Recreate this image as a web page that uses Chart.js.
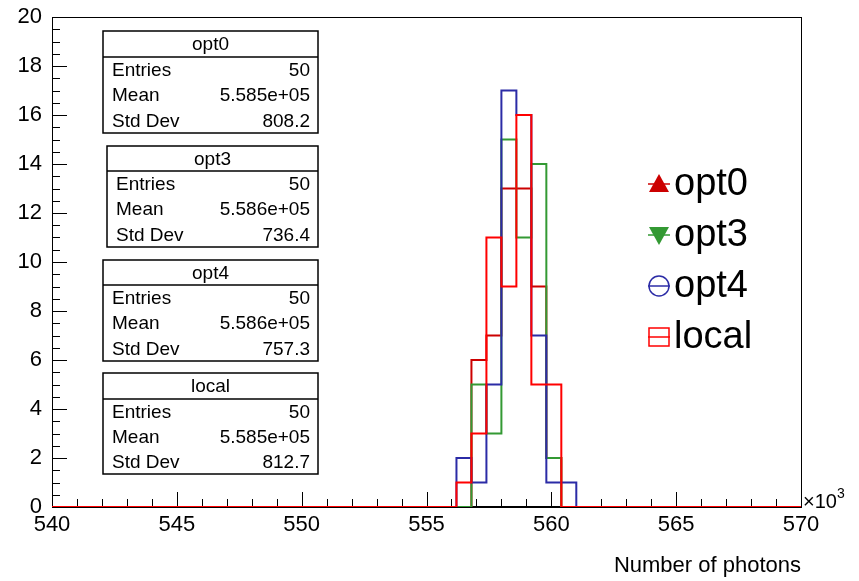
<!DOCTYPE html>
<html>
<head>
<meta charset="utf-8">
<script src="https://cdn.jsdelivr.net/npm/chart.js@4.4.1/dist/chart.umd.min.js"></script>
<style>
  html, body { margin: 0; padding: 0; background: #fff; }
  #graph { display: block; }
</style>
</head>
<body>
<canvas id="graph" width="859" height="581"></canvas>
<script>
// Histogramm-Daten (x in Einheiten von 10^3 Photonen, Binbreite 0.6)
const binEdges = [556.2, 556.8, 557.4, 558.0, 558.6, 559.2, 559.8, 560.4, 561.0];
const opt0Counts = [0, 6, 7, 13, 13, 9, 2, 0];
const opt3Counts = [0, 5, 3, 15, 11, 14, 2, 0];
const opt4Counts = [2, 1, 5, 17, 16, 7, 1, 1];
const localCounts = [1, 3, 11, 9, 16, 5, 5, 0];

const names = ["opt0", "opt3", "opt4", "local"];
const entries = ["50", "50", "50", "50"];
const means = ["5.585e+05", "5.586e+05", "5.586e+05", "5.585e+05"];
const stdDevs = ["808.2", "736.4", "757.3", "812.7"];

const xMin = 540, xMax = 570;
const yMin = 0, yMax = 20;

const FONT = "'Liberation Sans', Arial, Helvetica, sans-serif";
const colors = ["#cc0000", "#339933", "#2b2ba6", "#ff0000"];

// Stufen-Punkte aus den Bins
function toSteps(counts) {
  const pts = [{ x: xMin, y: 0 }];
  for (let i = 0; i < counts.length; i++) {
    pts.push({ x: binEdges[i], y: counts[i] });
  }
  pts.push({ x: binEdges[binEdges.length - 1], y: 0 });
  pts.push({ x: xMax, y: 0 });
  return pts;
}

function histDataset(label, counts, color, order) {
  return {
    label: label,
    data: toSteps(counts),
    borderColor: color,
    backgroundColor: color,
    borderWidth: 2,
    stepped: "before",
    pointRadius: 0,
    pointHoverRadius: 0,
    fill: false,
    tension: 0,
    order: order,
  };
}

// Rahmen und Ticks im ROOT-Stil
const framePlugin = {
  id: "frame",
  beforeDatasetsDraw(chart) {
    const { ctx, chartArea: a, scales } = chart;
    const x = scales.x, y = scales.y;
    ctx.save();
    ctx.strokeStyle = "#000";
    ctx.lineWidth = 1;
    ctx.strokeRect(a.left + 0.5, a.top + 0.5, a.right - a.left, a.bottom - a.top);
    ctx.beginPath();
    for (let v = xMin; v <= xMax; v += 1) {
      const px = Math.round(x.getPixelForValue(v)) + 0.5;
      const len = (v - xMin) % 5 === 0 ? 15 : 8;
      ctx.moveTo(px, a.bottom);
      ctx.lineTo(px, a.bottom - len);
    }
    for (let v = yMin; v <= yMax + 0.001; v += 0.5) {
      const py = Math.round(y.getPixelForValue(v)) + 0.5;
      const len = Math.abs(v % 2) < 0.001 ? 15 : 8;
      ctx.moveTo(a.left, py);
      ctx.lineTo(a.left + len, py);
    }
    ctx.stroke();
    ctx.lineWidth = 2;
    ctx.beginPath();
    ctx.moveTo(a.left, a.bottom);
    ctx.lineTo(a.right, a.bottom);
    ctx.stroke();
    ctx.restore();
  },
  afterDraw(chart) {
    const { ctx, chartArea: a } = chart;
    ctx.save();
    ctx.fillStyle = "#000";
    ctx.textBaseline = "alphabetic";
    ctx.textAlign = "left";
    ctx.font = "20px " + FONT;
    ctx.fillText("\u00d710", a.right + 2, a.bottom + 1);
    const w = ctx.measureText("\u00d710").width;
    ctx.font = "14px " + FONT;
    ctx.fillText("3", a.right + 2 + w, a.bottom - 9);
    ctx.restore();
  },
};

// Statistik-Boxen
const statBoxes = [
  { left: 103, top: 31, sep: 57, bottom: 133 },
  { left: 107, top: 146, sep: 171, bottom: 247 },
  { left: 103, top: 260, sep: 285, bottom: 361 },
  { left: 103, top: 373, sep: 399, bottom: 474 },
];
const statPlugin = {
  id: "stats",
  afterDraw(chart) {
    const ctx = chart.ctx;
    const right = 318;
    ctx.save();
    ctx.strokeStyle = "#000";
    ctx.lineWidth = 1.5;
    ctx.fillStyle = "#000";
    ctx.font = "19px " + FONT;
    ctx.textBaseline = "middle";
    statBoxes.forEach((b, i) => {
      ctx.fillStyle = "#fff";
      ctx.fillRect(b.left, b.top, right - b.left, b.bottom - b.top);
      ctx.strokeRect(b.left, b.top, right - b.left, b.bottom - b.top);
      ctx.beginPath();
      ctx.moveTo(b.left, b.sep);
      ctx.lineTo(right, b.sep);
      ctx.stroke();
      ctx.fillStyle = "#000";
      ctx.textAlign = "center";
      ctx.fillText(names[i], (b.left + right) / 2, (b.top + b.sep) / 2 + 1);
      const rowH = (b.bottom - b.sep) / 3;
      const labels = ["Entries", "Mean", "Std Dev"];
      const vals = [entries[i], means[i], stdDevs[i]];
      for (let r = 0; r < 3; r++) {
        const cy = b.sep + rowH * (r + 0.5) + 1;
        ctx.textAlign = "left";
        ctx.fillText(labels[r], b.left + 9, cy);
        ctx.textAlign = "right";
        ctx.fillText(vals[r], right - 8, cy);
      }
    });
    ctx.restore();
  },
};

// Legende mit ROOT-Markern
const legendPlugin = {
  id: "rootLegend",
  afterDraw(chart) {
    const ctx = chart.ctx;
    const mx = 659, tx = 674;
    ctx.save();
    ctx.font = "38px " + FONT;
    ctx.textBaseline = "alphabetic";
    ctx.textAlign = "left";
    names.forEach((name, i) => {
      const base = 195 + 51 * i;
      const cy = base - 11;
      const c = colors[i];
      ctx.strokeStyle = c;
      ctx.fillStyle = c;
      ctx.lineWidth = 1.5;
      ctx.beginPath();
      ctx.moveTo(mx - 11, cy);
      ctx.lineTo(mx + 11, cy);
      ctx.stroke();
      const s = 10;
      if (i === 0) {
        ctx.beginPath();
        ctx.moveTo(mx, cy - s);
        ctx.lineTo(mx + s, cy + s * 0.8);
        ctx.lineTo(mx - s, cy + s * 0.8);
        ctx.closePath();
        ctx.fill();
      } else if (i === 1) {
        ctx.beginPath();
        ctx.moveTo(mx, cy + s);
        ctx.lineTo(mx + s, cy - s * 0.8);
        ctx.lineTo(mx - s, cy - s * 0.8);
        ctx.closePath();
        ctx.fill();
      } else if (i === 2) {
        ctx.beginPath();
        ctx.arc(mx, cy, s, 0, Math.PI * 2);
        ctx.stroke();
      } else {
        ctx.strokeRect(mx - s, cy - s * 0.9, 2 * s, 1.8 * s);
      }
      ctx.fillStyle = "#000";
      ctx.fillText(name, tx, base);
    });
    ctx.restore();
  },
};

function drawChart() {
  window.myChart = new Chart(document.getElementById("graph").getContext("2d"), {
    type: "line",
    data: {
      datasets: [
        histDataset("opt0", opt0Counts, colors[0], 3),
        histDataset("opt3", opt3Counts, colors[1], 2),
        histDataset("opt4", opt4Counts, colors[2], 1),
        histDataset("local", localCounts, colors[3], 0),
      ],
    },
    options: {
      responsive: false,
      maintainAspectRatio: false,
      animation: false,
      layout: { padding: { top: 17, right: 58, left: 0, bottom: 0 } },
      plugins: {
        legend: { display: false },
        tooltip: { enabled: false },
      },
      scales: {
        x: {
          type: "linear",
          min: xMin,
          max: xMax,
          grid: { display: false, drawTicks: false },
          border: { display: false },
          ticks: {
            stepSize: 5,
            color: "#000",
            padding: 5,
            font: { family: FONT, size: 22 },
          },
          title: {
            display: true,
            text: "Number of photons",
            align: "end",
            color: "#000",
            font: { family: FONT, size: 22 },
            padding: { top: 0, bottom: 2 },
          },
          afterFit(scale) {
            scale.height = 74;
            scale.paddingLeft = 0;
            scale.paddingRight = 0;
          },
        },
        y: {
          min: yMin,
          max: yMax,
          grid: { display: false, drawTicks: false },
          border: { display: false },
          ticks: {
            stepSize: 2,
            color: "#000",
            padding: 10,
            font: { family: FONT, size: 22 },
          },
          afterFit(scale) {
            scale.width = 52;
            scale.paddingTop = 0;
            scale.paddingBottom = 0;
          },
        },
      },
    },
    plugins: [framePlugin, statPlugin, legendPlugin],
  });
}
drawChart();
</script>
</body>
</html>
